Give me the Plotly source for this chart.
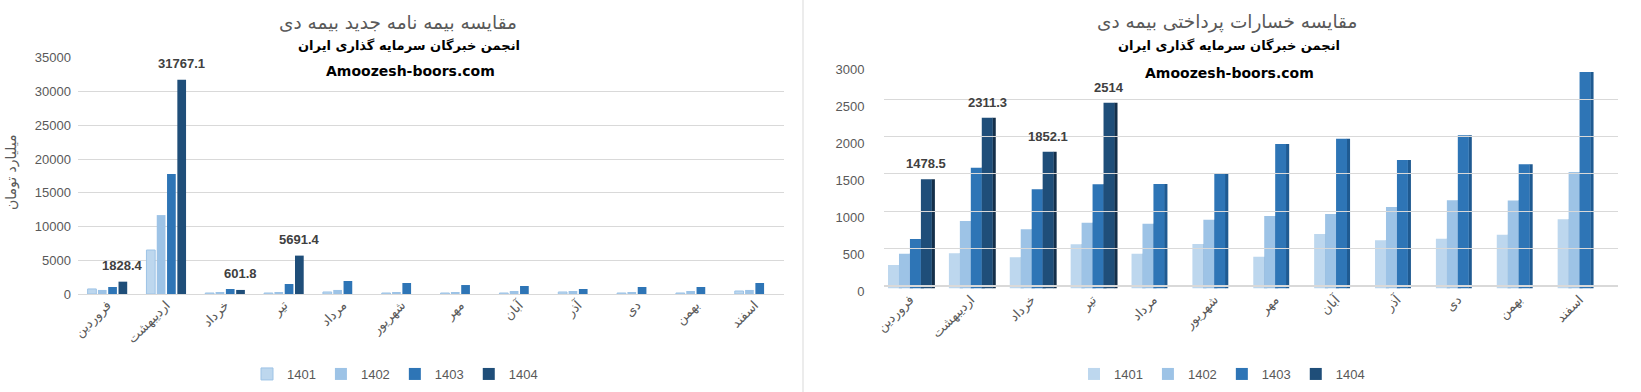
import plotly.graph_objects as go

months = ["فروردین", "اردیبهشت", "خرداد", "تیر", "مرداد", "شهریور",
          "مهر", "آبان", "آذر", "دی", "بهمن", "اسفند"]
years = ["1401", "1402", "1403", "1404"]

# Left chart: new policies (billion toman)
new_1401 = [750, 6520, 150, 150, 300, 150, 150, 150, 300, 150, 150, 445]
new_1402 = [600, 11700, 300, 300, 600, 300, 300, 445, 445, 300, 445, 600]
new_1403 = [1040, 17790, 740, 1480, 1930, 1630, 1330, 1190, 740, 1040, 1040, 1630]
new_1404 = [1828.4, 31767.1, 601.8, 5691.4, None, None, None, None, None, None, None, None]

# Right chart: paid claims
cl_1401 = [318, 476, 422, 598, 471, 602, 430, 737, 652, 674, 728, 936]
cl_1402 = [471, 913, 801, 890, 877, 931, 981, 1008, 1103, 1193, 1190, 1578]
cl_1403 = [670, 1635, 1342, 1410, 1414, 1559, 1955, 2027, 1739, 2073, 1681, 2930]
cl_1404 = [1478.5, 2311.3, 1852.1, 2514, None, None, None, None, None, None, None, None]

left_title = "مقایسه بیمه نامه جدید بیمه دی"
right_title = "مقایسه خسارات پرداختی بیمه دی"
subtitle = "انجمن خبرگان سرمایه گذاری ایران"
site = "Amoozesh-boors.com"
y_title = "میلیارد تومان"

colors = ["#BDD7EE", "#9DC3E6", "#2E75B6", "#1F4E79"]
side_colors = ["#8FB0D0", "#7399C2", "#1F5A91", "#142F4A"]
GRAY = "#595959"
GRID = "#D9D9D9"
NUMF = "Liberation Sans, Arial, sans-serif"
FAF = "DejaVu Sans, sans-serif"

W, H = 1641, 392
fig = go.Figure()

# ---------- left chart ----------
left_series = [new_1401, new_1402, new_1403, new_1404]
lslot, lw = 0.175, 0.148
for k, (yr, vals) in enumerate(zip(years, left_series)):
    fig.add_trace(go.Bar(
        x=months, y=vals, name=yr, xaxis="x", yaxis="y",
        offset=-0.35 + k * lslot + (lslot - lw) / 2, width=lw,
        marker=dict(color=colors[k],
                    line=dict(color="#9DC3E6" if k == 0 else colors[k], width=1 if k == 0 else 0)),
        legend="legend", hoverinfo="x+y",
    ))

# ---------- right chart (pseudo 3D) ----------
right_series = [cl_1401, cl_1402, cl_1403, cl_1404]
rw = 0.18
side_w = 0.055
for k, (yr, vals) in enumerate(zip(years, right_series)):
    off = -2 * rw + k * rw
    fig.add_trace(go.Bar(
        x=months, y=vals, xaxis="x2", yaxis="y2", showlegend=False,
        offset=off + rw - 0.005, width=side_w,
        marker=dict(color=side_colors[k], line=dict(width=0)),
        hoverinfo="skip",
    ))
    fig.add_trace(go.Bar(
        x=months, y=vals, name=yr, xaxis="x2", yaxis="y2",
        offset=off, width=rw,
        marker=dict(color=colors[k], line=dict(width=0)),
        legend="legend2", hoverinfo="x+y",
    ))

# invisible trace for the back-wall grid axis
fig.add_trace(go.Scatter(x=[None], y=[None], xaxis="x3", yaxis="y3",
                         showlegend=False, hoverinfo="skip"))

# ---------- data labels ----------
ann = []
for m, v in zip(months, new_1404):
    if v is not None:
        ann.append(dict(x=m, y=v, xref="x", yref="y", text=f"{v:g}", showarrow=False,
                        xshift=15.5, yshift=16, yanchor="middle",
                        font=dict(family=NUMF, size=13, color="#404040", weight="bold")))
for m, v in zip(months, cl_1404):
    if v is not None:
        ann.append(dict(x=m, y=v, xref="x2", yref="y2", text=f"{v:g}", showarrow=False,
                        xshift=16.4, yshift=15.5, yanchor="middle",
                        font=dict(family=NUMF, size=13, color="#404040", weight="bold")))

def px(x):
    return x / W

def py(y):
    return (H - y) / H

for cx, title in [(398, left_title), (1227, right_title)]:
    ann.append(dict(x=px(cx), y=py(22), xref="paper", yref="paper", text=title,
                    showarrow=False, xanchor="center", yanchor="middle",
                    font=dict(family=FAF, size=18.5, color=GRAY)))
for cx, t in [(409, subtitle), (1229, subtitle)]:
    ann.append(dict(x=px(cx), y=py(46), xref="paper", yref="paper", text=t,
                    showarrow=False, xanchor="center", yanchor="middle",
                    font=dict(family=FAF, size=13, color="#000000", weight="bold")))
for cx, cy in [(410, 71), (1229, 73)]:
    ann.append(dict(x=px(cx), y=py(cy), xref="paper", yref="paper", text=site,
                    showarrow=False, xanchor="center", yanchor="middle",
                    font=dict(family=FAF, size=14, color="#000000", weight="bold")))
ann.append(dict(x=px(11), y=py(173), xref="paper", yref="paper", text=y_title,
                showarrow=False, textangle=-90, xanchor="center", yanchor="middle",
                font=dict(family=FAF, size=14, color=GRAY)))

xcommon = dict(type="category", showgrid=False, zeroline=False, showline=False,
               ticks="", tickangle=-45, tickfont=dict(family=FAF, size=13, color=GRAY),
               fixedrange=True, automargin=False)

fig.update_layout(
    width=W, height=H, autosize=False,
    margin=dict(l=0, r=0, t=0, b=0, pad=0, autoexpand=False),
    paper_bgcolor="white", plot_bgcolor="rgba(0,0,0,0)",
    barmode="overlay",
    showlegend=True,
    xaxis=dict(domain=[px(78), px(784)], anchor="y", **xcommon),
    yaxis=dict(domain=[py(294), py(57.9)], anchor="x", range=[0, 35000], dtick=5000,
               showgrid=True, gridcolor=GRID, zeroline=True, zerolinecolor=GRID,
               zerolinewidth=1, showline=False, ticks="", tickformat="d",
               tickfont=dict(family=NUMF, size=13, color=GRAY), ticklabelstandoff=6,
               fixedrange=True, automargin=False),
    xaxis2=dict(domain=[px(879.5), px(1610)], anchor="y2", **xcommon),
    yaxis2=dict(domain=[py(288.5), py(66.8)], anchor="x2", range=[0, 3000], dtick=500,
                showgrid=False, zeroline=False, showline=False, ticks="", tickformat="d",
                tickfont=dict(family=NUMF, size=13, color=GRAY), ticklabelshift=3,
                ticklabelstandoff=14, fixedrange=True, automargin=False),
    xaxis3=dict(domain=[px(884), px(1618)], anchor="y3", visible=False, range=[0, 1],
                fixedrange=True, automargin=False),
    yaxis3=dict(domain=[py(286), py(61.7)], anchor="x3", range=[0, 3000], dtick=500,
                showgrid=True, gridcolor=GRID, zeroline=True, zerolinecolor=GRID,
                showticklabels=False, ticks="", showline=False, fixedrange=True,
                automargin=False),
    legend=dict(orientation="h", x=px(395), y=py(374), xanchor="center", yanchor="middle",
                font=dict(family=NUMF, size=13, color=GRAY), itemwidth=30,
                bgcolor="rgba(0,0,0,0)", traceorder="normal"),
    legend2=dict(orientation="h", x=px(1222), y=py(374), xanchor="center", yanchor="middle",
                 font=dict(family=NUMF, size=13, color=GRAY), itemwidth=30,
                 bgcolor="rgba(0,0,0,0)", traceorder="normal"),
    annotations=ann,
    shapes=[dict(type="line", xref="paper", yref="paper", x0=px(803), x1=px(803),
                 y0=0, y1=1, line=dict(color=GRID, width=1))],
)

fig.write_html(
    "out.html",
    config={"displayModeBar": False},
    post_script="document.body.style.margin='0';document.body.style.padding='0';"
                "document.body.style.overflow='hidden';",
)
